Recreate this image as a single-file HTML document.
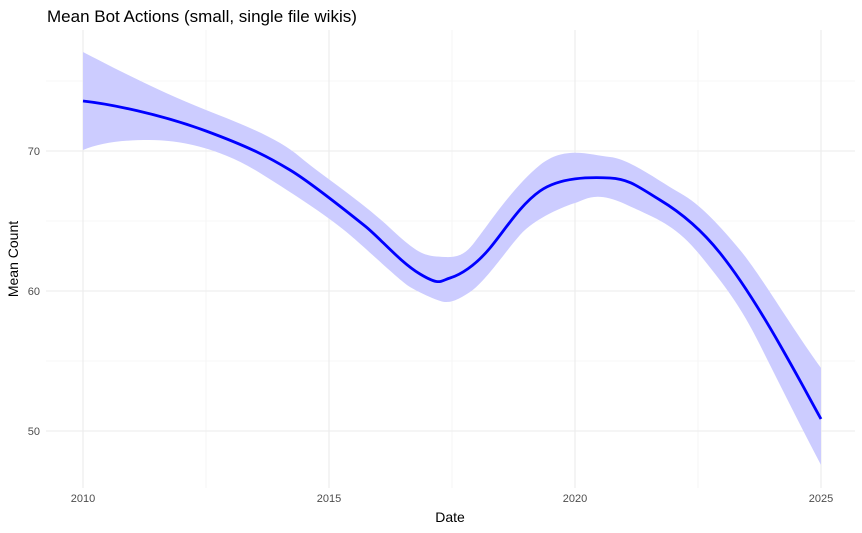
<!DOCTYPE html>
<html><head><meta charset="utf-8"><style>
body{margin:0;background:#fff;}
svg{display:block;font-family:"Liberation Sans",sans-serif;}
</style></head><body>
<svg width="862" height="533" viewBox="0 0 862 533">
<rect width="862" height="533" fill="#fff"/>
<g stroke="#f0f0f0" stroke-width="0.6">
<line x1="46" x2="855" y1="81" y2="81"/><line x1="46" x2="855" y1="221" y2="221"/><line x1="46" x2="855" y1="361" y2="361"/>
<line x1="206" x2="206" y1="30" y2="488"/><line x1="452" x2="452" y1="30" y2="488"/><line x1="698" x2="698" y1="30" y2="488"/>
</g>
<g stroke="#ebebeb" stroke-width="1.1">
<line x1="46" x2="855" y1="151" y2="151"/><line x1="46" x2="855" y1="291" y2="291"/><line x1="46" x2="855" y1="431" y2="431"/>
<line x1="83" x2="83" y1="30" y2="488"/><line x1="329" x2="329" y1="30" y2="488"/><line x1="575" x2="575" y1="30" y2="488"/><line x1="821" x2="821" y1="30" y2="488"/>
</g>
<path fill="#ccccff" d="M83,52 C110,66 160,92 206,110 S280,140 300,157 S360,200 390,228 S425,256 445,257 S470,248 480,235 S515,185 540,165 S590,155 610,157 S660,182 680,193 S720,226 740,250 S790,325 821,368 L821,465 C800,425 780,385 760,345 S725,286 700,255 S655,218 625,204 S585,200 575,203 S535,218 520,235 S485,282 470,292 S450,302 445,302 S420,293 410,287 S370,252 350,235 S300,198 260,173 S180,140 150,140 S100,143 83,150 Z"/>
<path fill="none" stroke="#0000ff" stroke-width="2.8" d="M83,101 C110,104 160,114 206,131 S270,158 290,170 S350,214 365,226 S400,262 420,274 S440,281 450,278 S475,266 490,248 S520,205 540,191 S590,177 610,178 S640,188 660,200 S700,228 720,253 S760,310 780,345 S805,390 821,419"/>
<g font-size="11" fill="#4d4d4d" text-anchor="end">
<text x="40" y="155">70</text><text x="40" y="295">60</text><text x="40" y="435">50</text>
</g>
<g font-size="11" fill="#4d4d4d" text-anchor="middle">
<text x="83" y="502">2010</text><text x="329" y="502">2015</text><text x="575" y="502">2020</text><text x="821" y="502">2025</text>
</g>
<text x="450" y="522" font-size="14" text-anchor="middle" fill="#000">Date</text>
<text transform="translate(18,259) rotate(-90)" font-size="14" text-anchor="middle" fill="#000">Mean Count</text>
<text x="47" y="22" font-size="17" fill="#000">Mean Bot Actions (small, single file wikis)</text>
</svg>
</body></html>
